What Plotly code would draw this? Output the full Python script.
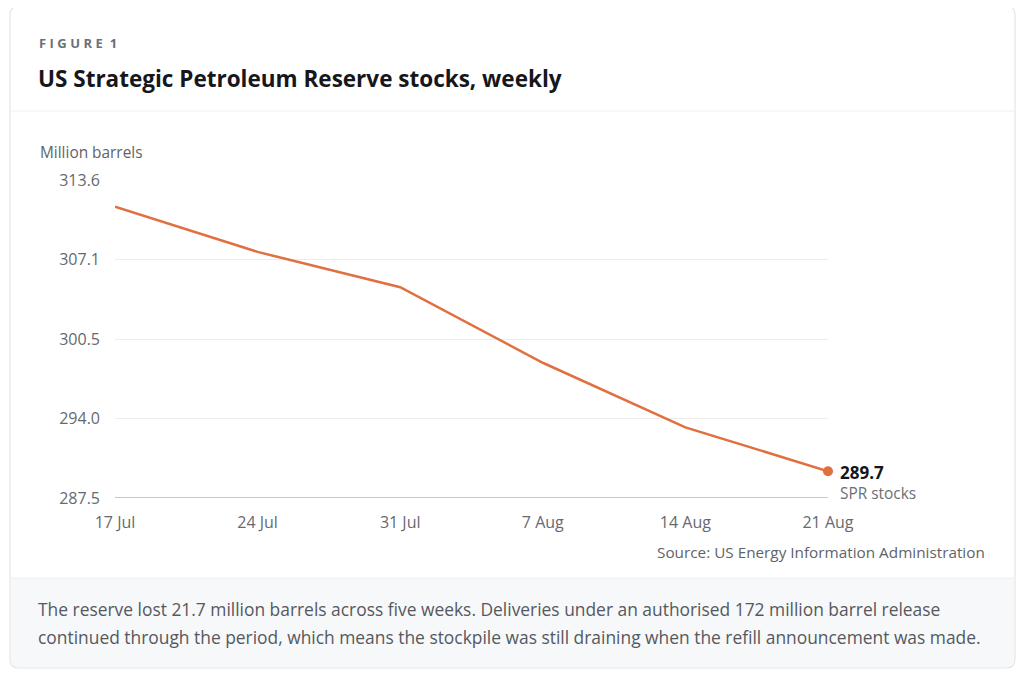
import plotly.graph_objects as go

# weekly SPR stocks, million barrels
weeks = ["17 Jul", "24 Jul", "31 Jul", "7 Aug", "14 Aug", "21 Aug"]
stocks = [311.4, 307.7, 304.8, 298.6, 293.3, 289.7]
y_ticks = [287.5, 294.0, 300.5, 307.1, 313.6]
y_tick_labels = ["287.5", "294.0", "300.5", "307.1", "313.6"]

OFF = 8                      # page body margin
W, H = 1024 - 2 * OFF, 677 - 2 * OFF
L, R, T, B = 115, 828, 180, 498   # plot area in screen pixels
FONT = "Open Sans, Noto Sans, sans-serif"
ORANGE = "#e0703f"

fig = go.Figure()

fig.add_trace(go.Scatter(
    x=list(range(len(weeks))), y=stocks, mode="lines",
    line=dict(color=ORANGE, width=2.5), hoverinfo="skip",
    cliponaxis=False, showlegend=False,
))
# end point marker
fig.add_trace(go.Scatter(
    x=[len(weeks) - 1], y=[stocks[-1]], mode="markers",
    marker=dict(color=ORANGE, size=10), cliponaxis=False,
    showlegend=False, hoverinfo="skip",
))

# screen pixel -> paper (paper spans the plot area)
def px(x):
    return (x - L) / (R - L)

def py(y):
    return (B - y) / (B - T)

# card outline with rounded corners
x0, x1, y0, y1, r = 10, 1015, 6, 668, 9
card = (f"M {px(x0 + r)},{py(y0)} L {px(x1 - r)},{py(y0)} "
        f"Q {px(x1)},{py(y0)} {px(x1)},{py(y0 + r)} "
        f"L {px(x1)},{py(y1 - r)} Q {px(x1)},{py(y1)} {px(x1 - r)},{py(y1)} "
        f"L {px(x0 + r)},{py(y1)} Q {px(x0)},{py(y1)} {px(x0)},{py(y1 - r)} "
        f"L {px(x0)},{py(y0 + r)} Q {px(x0)},{py(y0)} {px(x0 + r)},{py(y0)} Z")
fig.add_shape(type="path", path=card, xref="paper", yref="paper",
              line=dict(color="#e4e4e4", width=1.2), fillcolor="white", layer="below")
# footer panel
foot = (f"M {px(x0 + 1)},{py(578)} L {px(x1 - 1)},{py(578)} "
        f"L {px(x1 - 1)},{py(y1 - r)} Q {px(x1 - 1)},{py(y1 - 1)} {px(x1 - r)},{py(y1 - 1)} "
        f"L {px(x0 + r)},{py(y1 - 1)} Q {px(x0 + 1)},{py(y1 - 1)} {px(x0 + 1)},{py(y1 - r)} Z")
fig.add_shape(type="path", path=foot, xref="paper", yref="paper",
              line=dict(width=0), fillcolor="#f6f8f9", layer="below")
fig.add_shape(type="line", xref="paper", yref="paper",
              x0=px(x0), x1=px(x1), y0=py(111), y1=py(111),
              line=dict(color="#efefef", width=1), layer="below")
fig.add_shape(type="line", xref="paper", yref="paper",
              x0=px(x0), x1=px(x1), y0=py(578), y1=py(578),
              line=dict(color="#eeeeee", width=1), layer="below")

def label(x, y, text, size, color, anchor="left", bold=False):
    if bold:
        text = f"<b>{text}</b>"
    fig.add_annotation(x=px(x), y=py(y), xref="paper", yref="paper", text=text,
                       showarrow=False, xanchor=anchor, yanchor="middle",
                       font=dict(family=FONT, size=size, color=color))

sp = "\u2009\u200a"
label(37, 43, sp.join("FIGURE") + sp + sp + "1", 13, "#6b7079", bold=True)
label(36, 78, "US Strategic Petroleum Reserve stocks, weekly", 22.5, "#15171a", bold=True)
label(38, 152, "Million barrels", 15.4, "#5f6368")
label(838, 472, f"{stocks[-1]:.1f}", 17, "#15171a", bold=True)
label(838, 493, "SPR stocks", 15.4, "#6b6f75")
label(987, 552, "Source: US Energy Information Administration", 15.3, "#5f6368", anchor="right")
label(36, 609, "The reserve lost 21.7 million barrels across five weeks. Deliveries under an authorised 172 million barrel release",
      17.4, "#55595f")
label(36, 637, "continued through the period, which means the stockpile was still draining when the refill announcement was made.",
      17.4, "#55595f")

fig.update_layout(
    width=W, height=H,
    margin=dict(l=L - OFF, r=W - (R - OFF), t=T - OFF, b=H - (B - OFF)),
    paper_bgcolor="white", plot_bgcolor="white",
    font=dict(family=FONT, size=14, color="#666a70"),
    xaxis=dict(range=[0, len(weeks) - 1], tickvals=list(range(len(weeks))), ticktext=weeks,
               showgrid=False, zeroline=False, showline=False, ticks="",
               tickfont=dict(size=16, color="#666a70"), ticklabelstandoff=13),
    yaxis=dict(range=[y_ticks[0], y_ticks[-1]], tickvals=y_ticks, ticktext=y_tick_labels,
               showgrid=True, gridcolor="#ececec", gridwidth=1, zeroline=False,
               showline=False, ticks="", tickfont=dict(size=16, color="#666a70"),
               ticklabelstandoff=14),
)
# darker baseline
fig.add_shape(type="line", xref="x", yref="y", x0=0, x1=len(weeks) - 1,
              y0=y_ticks[0], y1=y_ticks[0], line=dict(color="#c8c8c8", width=2))

fig.write_html("out.html")
